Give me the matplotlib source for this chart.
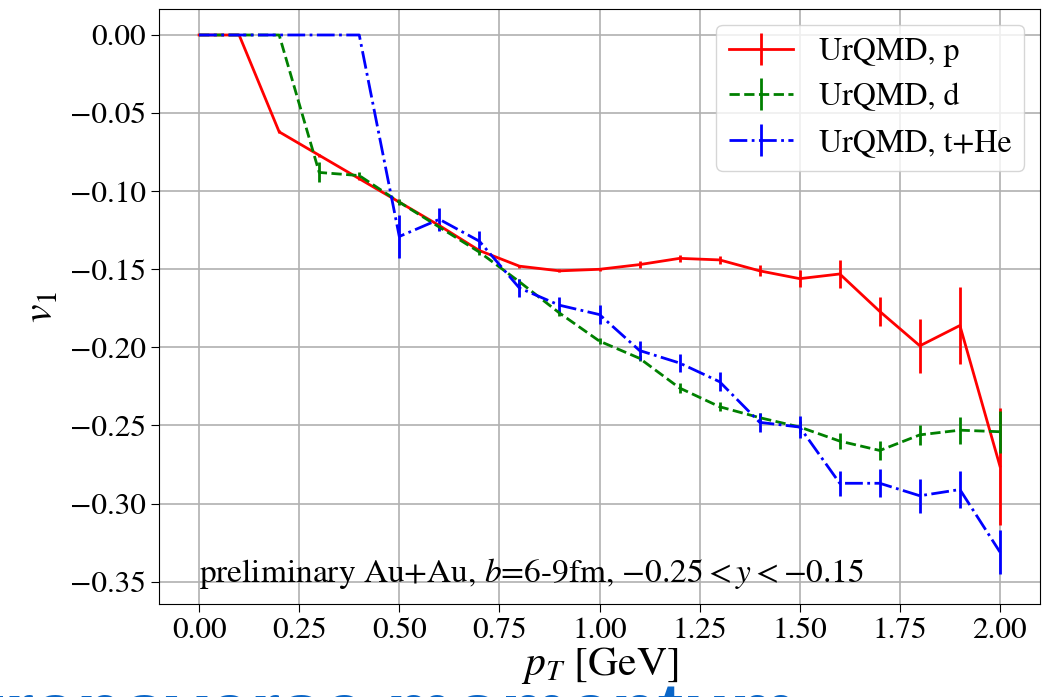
import numpy as np
import matplotlib
matplotlib.use('Agg')
import matplotlib.pyplot as plt

# 데이터
pt = [0.0, 0.1, 0.2, 0.3, 0.4, 0.5, 0.6, 0.7, 0.8, 0.9, 1.0,
      1.1, 1.2, 1.3, 1.4, 1.5, 1.6, 1.7, 1.8, 1.9, 2.0]

v1_p = [0.0, 0.0, -0.062, -0.077, -0.092, -0.107, -0.122, -0.138, -0.148, -0.151, -0.150,
        -0.147, -0.143, -0.144, -0.151, -0.156, -0.153, -0.177, -0.199, -0.186, -0.276]
err_p = [0.0, 0.0, 0.001, 0.001, 0.001, 0.001, 0.001, 0.001, 0.001, 0.001, 0.001,
         0.002, 0.0024, 0.0027, 0.0035, 0.0055, 0.0088, 0.0095, 0.0172, 0.0244, 0.0375]

v1_d = [0.0, 0.0, 0.0, -0.088, -0.090, -0.107, -0.123, -0.139, -0.158, -0.178, -0.196,
        -0.207, -0.226, -0.238, -0.245, -0.251, -0.260, -0.266, -0.256, -0.253, -0.254]
err_d = [0.0, 0.0, 0.0, 0.0064, 0.002, 0.002, 0.002, 0.002, 0.002, 0.002, 0.002,
         0.002, 0.003, 0.003, 0.003, 0.004, 0.005, 0.006, 0.0064, 0.0086, 0.0134]

v1_t = [0.0, 0.0, 0.0, 0.0, 0.0, -0.129, -0.118, -0.132, -0.162, -0.173, -0.179,
        -0.202, -0.210, -0.222, -0.248, -0.251, -0.287, -0.287, -0.295, -0.291, -0.331]
err_t = [0.0, 0.0, 0.0, 0.0, 0.0, 0.014, 0.0075, 0.0064, 0.006, 0.005, 0.006,
         0.006, 0.006, 0.006, 0.006, 0.007, 0.008, 0.009, 0.011, 0.012, 0.014]

labels = ['UrQMD, p', 'UrQMD, d', 'UrQMD, t+He']
note = 'preliminary Au+Au, $b$=6-9fm, $-0.25 < y < -0.15$'

plt.rcParams['font.family'] = ['STIXGeneral', 'Liberation Serif', 'DejaVu Serif']
plt.rcParams['mathtext.fontset'] = 'stix'

fig = plt.figure(figsize=(10.49, 6.97), dpi=100)
ax = fig.add_axes([0.1516, 0.1334, 0.8398, 0.8536])

ax.errorbar(pt, v1_p, yerr=err_p, color='red', linestyle='-', lw=2, label=labels[0])
ax.errorbar(pt, v1_d, yerr=err_d, color='green', linestyle='--', lw=2, label=labels[1])
ax.errorbar(pt, v1_t, yerr=err_t, color='blue', linestyle='-.', lw=2, label=labels[2])

ax.set_xlim(-0.1, 2.1)
ax.set_ylim(-0.3643, 0.0166)
ax.set_xticks(np.arange(0, 2.01, 0.25))
ax.set_yticks(np.arange(-0.35, 0.001, 0.05))
ax.tick_params(labelsize=22.5, length=6)
ax.grid(True, color='#b0b0b0', lw=1.2)

ax.text(0.0, -0.35, note, fontsize=24, va='baseline')
ax.set_xlabel('$p_T$ [GeV]', fontsize=30, labelpad=0)
ax.set_ylabel('$v_1$', fontsize=30, labelpad=6)
ax.legend(loc='upper right', fontsize=23)

# 슬라이드에서 잘린 파란 글자
fig.text(-0.02, -0.056, 'transverse momentum', fontsize=55, color='#0a66c8',
         family='Liberation Sans', fontweight='bold')

fig.savefig('out.png', dpi=100)
